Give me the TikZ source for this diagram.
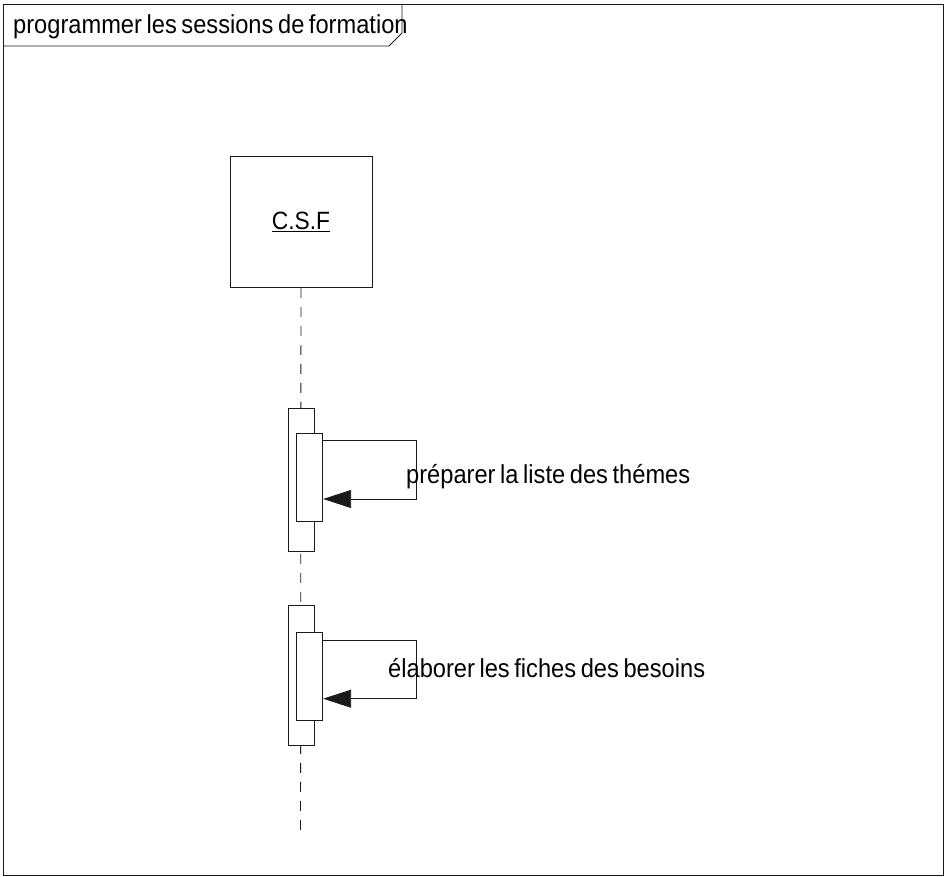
\documentclass[tikz,border=0pt]{standalone}
\usepackage{fontspec}
\setmainfont[FakeStretch=0.91,WordSpace=0.7]{Liberation Sans}
\usetikzlibrary{arrows.meta,positioning,calc}
\definecolor{Ink}{HTML}{1A1A1A}

\tikzset{
  lifebox/.style={draw=Ink,line width=0.9pt,fill=white,inner sep=0pt,
    minimum width=142pt,minimum height=131pt},
  actbox/.style={draw=Ink,line width=0.9pt,fill=white,inner sep=0pt,
    minimum width=26pt},
  lifeline/.style={draw=Ink,line width=0.9pt,dash pattern=on 10pt off 9pt},
  msgline/.style={draw=Ink,line width=0.9pt,-{Triangle[length=28pt,width=18pt]}},
  lbl/.style={inner sep=0pt,font=\fontsize{26}{29}\selectfont}
}

\begin{document}
\begin{tikzpicture}[x=1pt,y=-1pt]
  \useasboundingbox (0,0) rectangle (945,877);
  % frame
  \draw[Ink,line width=0.9pt] (3,4) rectangle (943,875);
  \draw[Ink,line width=0.9pt] (3,46) -- (389,46) -- (402,33) -- (402,4);
  \node[lbl,anchor=base west] (title) at (13,34) {programmer les sessions de formation};

  % lifeline
  \node[lifebox] (csf) at (301,222) {\fontsize{25}{28}\selectfont\underline{C.S.F}};
  \coordinate (lend) at (300.5,835);
  \draw[lifeline] (csf.south) -- (lend);

  % first activation
  \node[actbox,minimum height=143pt] (act1o) at (301,479.5) {};
  \node[actbox,minimum height=88pt] (act1i) at (309.7,477) {};
  \draw[msgline] ([yshift=-8pt]act1i.north east) -- ++(93,0) |- ([yshift=-22pt]act1i.east);
  \node[lbl,anchor=base west] (msg1) at (406,483) {préparer la liste des thémes};

  % second activation
  \node[actbox,minimum height=140pt] (act2o) at (301,675) {};
  \node[actbox,minimum height=88pt] (act2i) at (309.7,676.7) {};
  \draw[msgline] ([yshift=-8pt]act2i.north east) -- ++(93,0) |- ([yshift=-22pt]act2i.east);
  \node[lbl,anchor=base west] (msg2) at (388,677) {élaborer les fiches des besoins};
\end{tikzpicture}
\end{document}
